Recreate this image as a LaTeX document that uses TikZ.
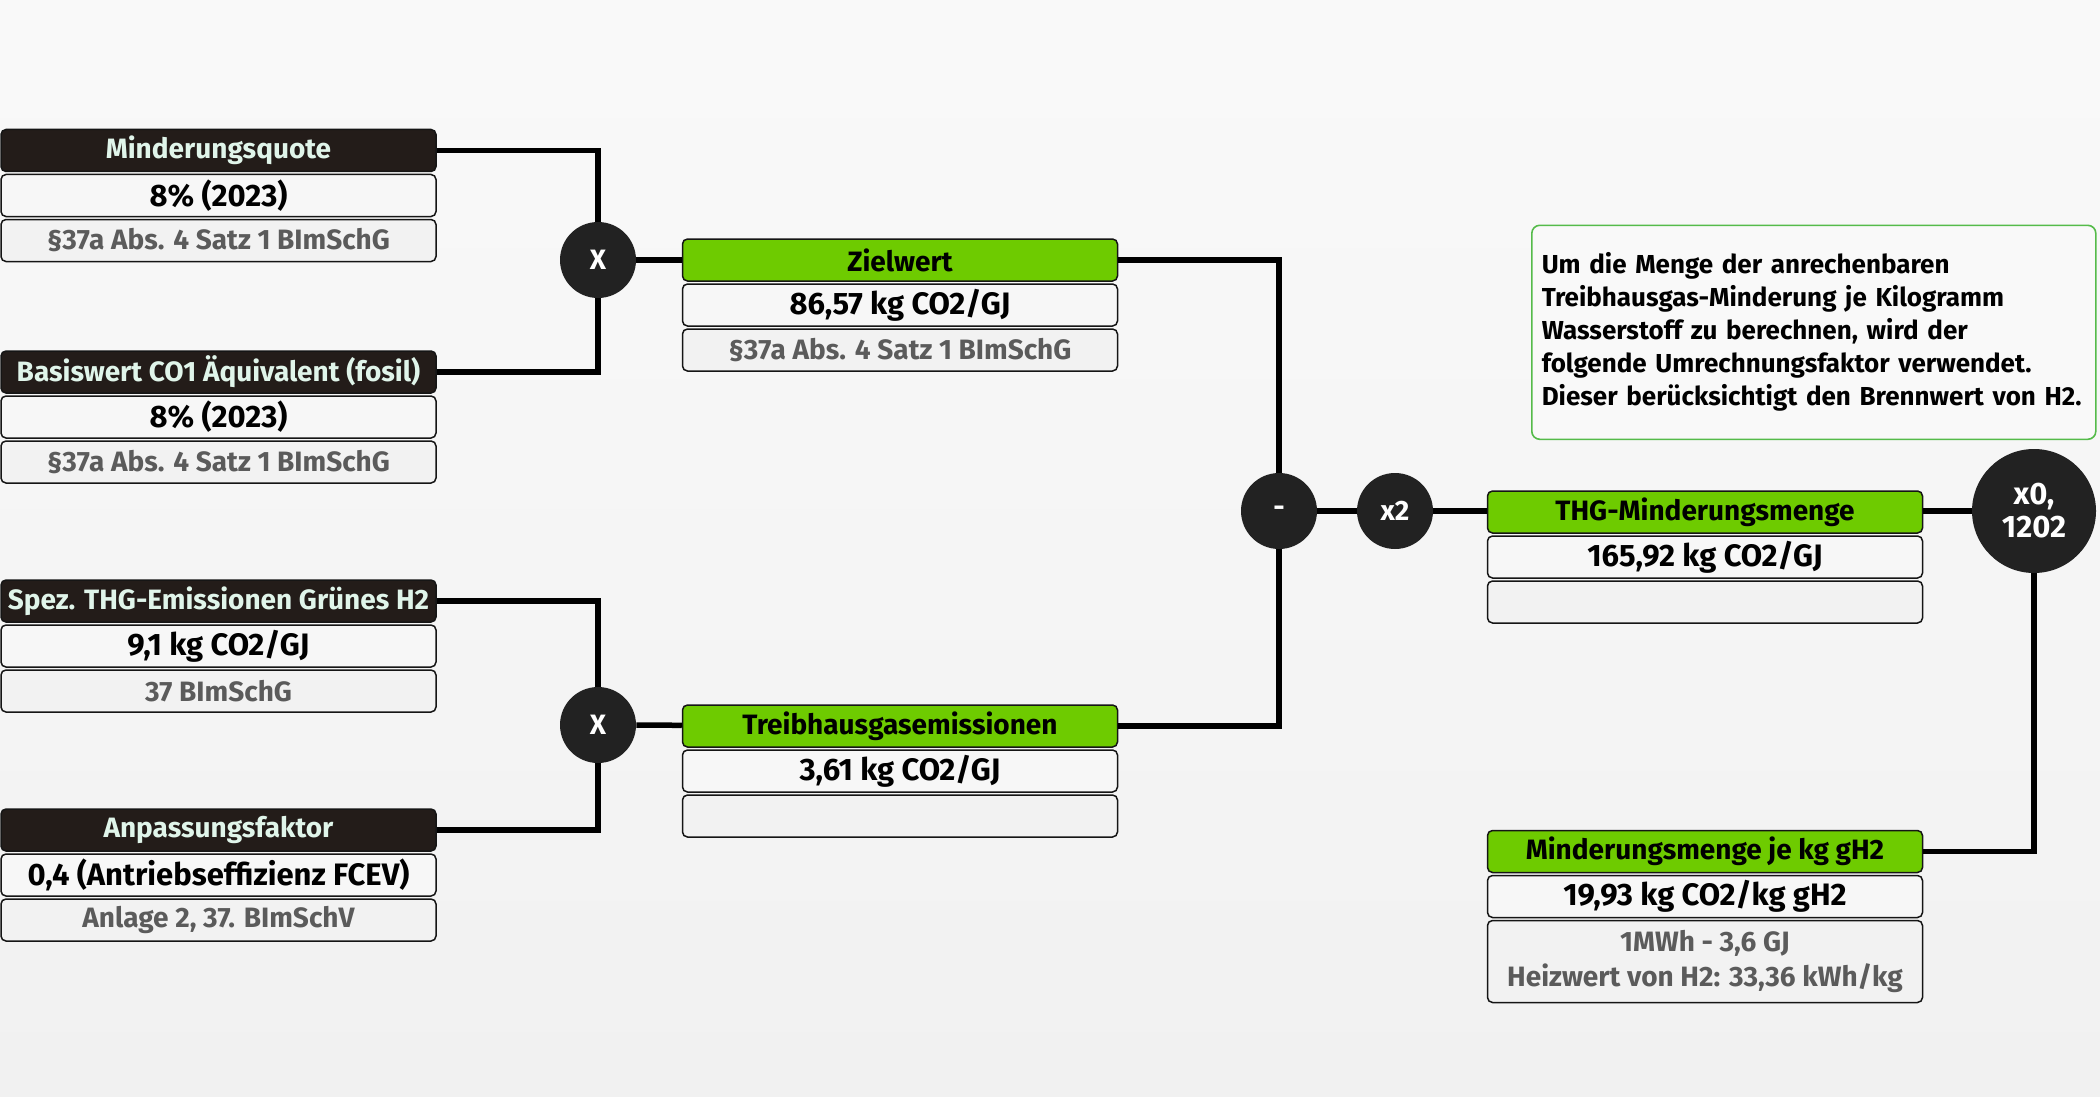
\documentclass[tikz,border=0pt]{standalone}
\usepackage{fontspec}
\setmainfont{Fira Sans}
\usetikzlibrary{positioning}
\definecolor{cardink}{HTML}{151515}
\definecolor{carddark}{HTML}{231C19}
\definecolor{cardmint}{HTML}{E0F5EA}
\definecolor{cardgreen}{HTML}{6ECB00}
\definecolor{cardgrey}{HTML}{5B5B5B}
\definecolor{opdark}{HTML}{222222}
\definecolor{notegreen}{HTML}{55BB4A}
\definecolor{paper}{HTML}{F1F1F1}

\begin{document}
\begin{tikzpicture}[
  x=0.5pt,
  y=-0.5pt,
  every node/.style={font=\bfseries\fontsize{14}{16}\selectfont, inner sep=0pt},
  row/.style={draw=cardink, line width=0.75pt, rounded corners=2.5pt,
    minimum width=217.5pt, minimum height=21pt},
  headdark/.style={row, fill=carddark, text=cardmint},
  headgreen/.style={row, fill=cardgreen, text=black},
  valrow/.style={row, fill=white!97!black, text=black,
    font=\bfseries\fontsize{15.5}{17}\selectfont},
  srcrow/.style={row, fill=white!95!black, text=cardgrey},
  opnode/.style={circle, fill=opdark, text=white, minimum size=38pt},
  link/.style={black, line width=2.75pt},
  note/.style={draw=notegreen, line width=0.8pt, rounded corners=4pt,
    fill=white!55!paper, text width=272pt, inner xsep=5pt, align=left,
    minimum height=107pt, font=\bfseries\fontsize{13}{16.5}\selectfont}
]
  % ---- page and background ---------------------------------------------
  \useasboundingbox (0,0) rectangle (2100,1097);
  \fill[top color=white!60!paper, bottom color=paper]
    (0,0) rectangle (2100,1097);

  % ---- left column -----------------------------------------------------
  \node[headdark] (mqHead) at (218.5,150.5) {Minderungsquote};
  \node[valrow, below=0.75pt of mqHead] (mqVal) {8\% (2023)};
  \node[srcrow, below=0.75pt of mqVal] (mqSrc) {§37a Abs. 4 Satz 1 BImSchG};

  \node[headdark] (bwHead) at (218.5,372) {Basiswert CO1 Äquivalent (fosil)};
  \node[valrow, below=0.75pt of bwHead] (bwVal) {8\% (2023)};
  \node[srcrow, below=0.75pt of bwVal] (bwSrc) {§37a Abs. 4 Satz 1 BImSchG};

  \node[headdark] (geHead) at (218.5,601) {Spez. THG-Emissionen Grünes H2};
  \node[valrow, below=0.75pt of geHead] (geVal) {9,1 kg CO2/GJ};
  \node[srcrow, below=0.75pt of geVal] (geSrc) {37 BImSchG};

  \node[headdark] (afHead) at (218.5,830) {Anpassungsfaktor};
  \node[valrow, below=0.75pt of afHead] (afVal) {0,4 (Antriebseffizienz FCEV)};
  \node[srcrow, below=0.75pt of afVal] (afSrc) {Anlage 2, 37. BImSchV};

  % ---- middle column ---------------------------------------------------
  \node[headgreen] (zwHead) at (900,260) {Zielwert};
  \node[valrow, below=0.75pt of zwHead] (zwVal) {86,57 kg CO2/GJ};
  \node[srcrow, below=0.75pt of zwVal] (zwSrc) {§37a Abs. 4 Satz 1 BImSchG};

  \node[headgreen] (teHead) at (900,726) {Treibhausgasemissionen};
  \node[valrow, below=0.75pt of teHead] (teVal) {3,61 kg CO2/GJ};
  \node[srcrow, below=0.75pt of teVal] (teSrc) {};

  % ---- right column ----------------------------------------------------
  \node[headgreen] (tmHead) at (1705,512) {THG-Minderungsmenge};
  \node[valrow, below=0.75pt of tmHead] (tmVal) {165,92 kg CO2/GJ};
  \node[srcrow, below=0.75pt of tmVal] (tmSrc) {};

  \node[headgreen] (mkHead) at (1705,851.5) {Minderungsmenge je kg gH2};
  \node[valrow, below=0.75pt of mkHead] (mkVal) {19,93 kg CO2/kg gH2};
  \node[srcrow, below=0.75pt of mkVal, minimum height=41pt, align=center,
    font=\bfseries\fontsize{14}{17.5}\selectfont] (mkSrc)
    {1MWh - 3,6 GJ\\Heizwert von H2: 33,36 kWh/kg};

  \node[note, anchor=north west] (hint) at (1531,224.5)
    {Um die Menge der anrechenbaren\\
     Treibhausgas-Minderung je Kilogramm\\
     Wasserstoff zu berechnen, wird der\\
     folgende Umrechnungsfaktor verwendet.\\
     Dieser berücksichtigt den Brennwert von H2.};

  % ---- operators -------------------------------------------------------
  \node[opnode] (mulA) at (598,260) {X};
  \node[opnode] (mulB) at (598,725) {X};
  \node[opnode] (diff) at (1279,511) {-};
  \node[opnode] (dbl) at (1395,511) {x2};
  \node[opnode, minimum size=62pt, align=center,
    font=\bfseries\fontsize{15.5}{16.5}\selectfont] (conv) at (2034,511)
    {x0,\\1202};

  % ---- connectors ------------------------------------------------------
  \draw[link] (mqHead.east) -| (mulA);
  \draw[link] (bwHead.east) -| (mulA);
  \draw[link] (mulA) -- (zwHead);
  \draw[link] (geHead.east) -| (mulB);
  \draw[link] (afHead.east) -| (mulB);
  \draw[link] (mulB) -- (teHead);
  \draw[link] (zwHead.east) -| (diff);
  \draw[link] (teHead.east) -| (diff);
  \draw[link] (diff) -- (dbl);
  \draw[link] (dbl) -- (dbl -| tmHead.west);
  \draw[link] (tmHead.east |- conv) -- (conv);
  \draw[link] (conv) |- (mkHead.east);
\end{tikzpicture}
\end{document}
